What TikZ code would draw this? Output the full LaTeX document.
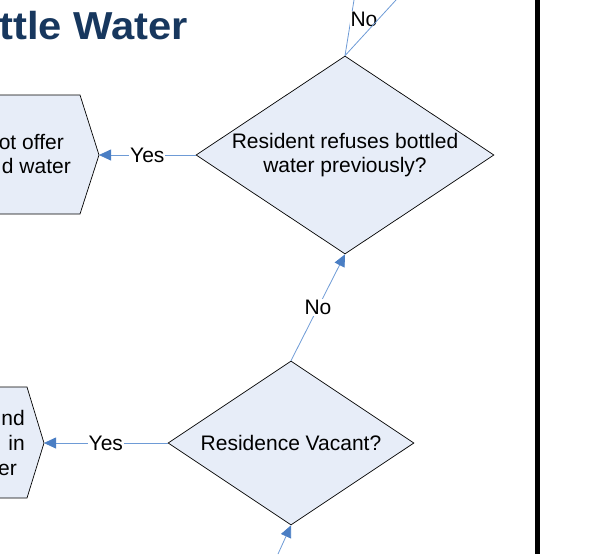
\documentclass[tikz,border=0pt]{standalone}
\usepackage{fontspec}
\setmainfont{Liberation Sans}
\usetikzlibrary{shapes.geometric,arrows.meta}
\definecolor{titleblue}{HTML}{17375E}
\definecolor{shapefill}{HTML}{E7EDF8}
\definecolor{linkblue}{HTML}{6E9BD6}
\definecolor{tipblue}{HTML}{4A7EC4}
\begin{document}
\begin{tikzpicture}[x=1pt,y=-1pt,
  every node/.style={font=\fontsize{21}{24}\selectfont},
  decision/.style={shape=diamond, draw=black, line width=0.7pt, fill=shapefill,
    aspect=1.5, inner sep=0pt, align=center},
  process/.style={draw=black, line width=0.7pt, fill=shapefill},
  link/.style={draw=linkblue, line width=0.8pt,
    -{Triangle[length=12pt,width=11pt,color=tipblue]}},
  plainlink/.style={draw=linkblue, line width=0.8pt},
  tag/.style={fill=white, inner sep=1pt}
]
\useasboundingbox (0,0) rectangle (593,554);

% heading
\node[anchor=base east, inner sep=0pt, text=titleblue,
  font=\fontsize{39}{46}\selectfont\bfseries]
  (title) at (188,39) {\scalebox{1.07}[1]{ttle Water}};

% lane separator
\draw[line width=5pt] (537,0) -- (537,554);

% action boxes on the left
\path[process] (-100,95) -- (80,95) -- (99,155) -- (80,214) -- (-100,214) -- (-119,155) -- cycle;
\coordinate (offer) at (99,155);
\node[anchor=east, inner sep=0pt, align=right] (offertext) at (71,154.5)
  {ot offer\hspace*{7pt}\\d water};

\path[process] (-100,387) -- (27,387) -- (44,443) -- (27,498) -- (-100,498) -- cycle;
\coordinate (test) at (44,443);
\node[anchor=east, inner sep=0pt, align=right,
  font=\fontsize{21}{25}\selectfont] (testtext) at (25,442.5)
  {nd\\in\hspace*{7pt}\\er\hspace*{8pt}};

% decisions
\node[decision, minimum width=298pt, minimum height=198pt] (refuse) at (345,155)
  {Resident refuses bottled\\water previously?};
\node[decision, minimum width=246pt, minimum height=164pt] (vacant) at (291,443)
  {Residence Vacant?};

% connectors
\draw[link] (refuse.west) -- node[tag] (yes1) {Yes} (offer);
\draw[link] (vacant.west) -- node[tag] (yes2) {Yes} (test);
\draw[link] (vacant.north) -- node[tag] (no1) {No} (refuse.south);
\coordinate (inbottom) at (278,554);
\draw[link] (inbottom) -- (vacant.south);

\coordinate (up1) at (354,0);
\coordinate (up2) at (396,0);
\draw[plainlink] (refuse.north) -- (up1);
\node[tag] (no2) at (364,19) {No};
\draw[plainlink] (refuse.north) -- (up2);
\end{tikzpicture}
\end{document}
